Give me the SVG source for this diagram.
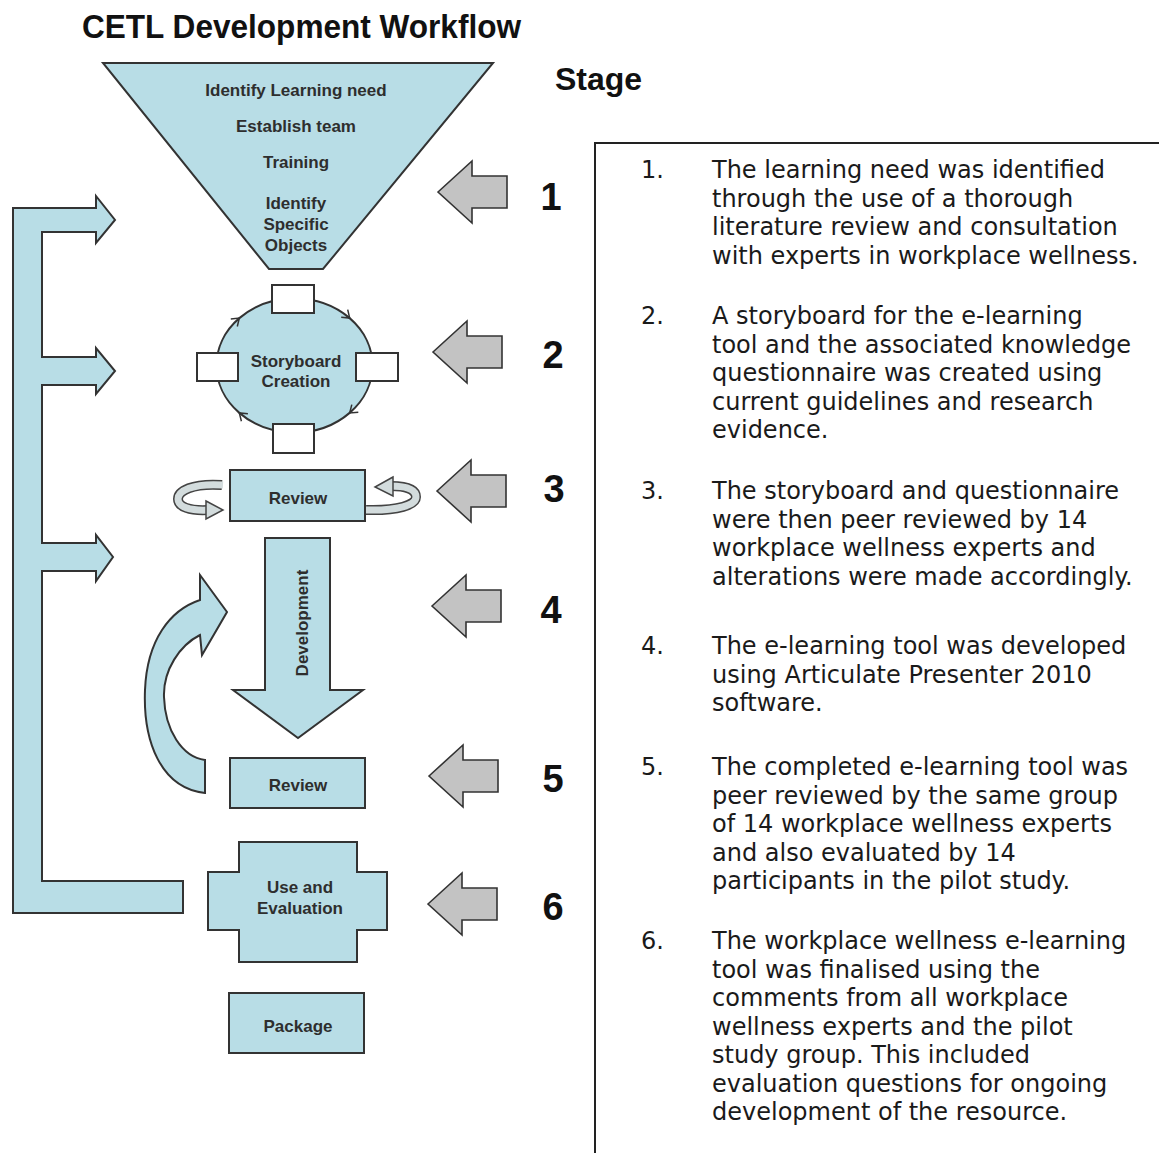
<svg xmlns="http://www.w3.org/2000/svg" width="1159" height="1153" viewBox="0 0 1159 1153">
  <style>
    .shape { fill: #b8dde6; stroke: #333; stroke-width: 2; stroke-linejoin: miter; }
    .white { fill: #ffffff; stroke: #333; stroke-width: 2; }
    .lbl { font-family: "Liberation Sans", Arial, sans-serif; font-weight: bold; font-size: 17px; fill: #2e2e2e; text-anchor: middle; }
    .head { font-family: "Liberation Sans", Arial, sans-serif; font-weight: bold; fill: #111; }
    .num { font-family: "Liberation Sans", Arial, sans-serif; font-weight: bold; font-size: 38px; fill: #111; text-anchor: middle; }
    .body { font-family: "DejaVu Sans", Verdana, sans-serif; font-size: 24px; fill: #1a1a1a; }
    .pointer { fill: #c3c3c3; stroke: #333; stroke-width: 1.6; stroke-linejoin: miter; }
    .chev { fill: none; stroke: #333; stroke-width: 1.5; }
    .ringOut { fill: none; stroke: #444; stroke-width: 10; }
    .ringIn { fill: none; stroke: #d3dcdd; stroke-width: 7; }
    .ringHead { fill: #d3dcdd; stroke: #444; stroke-width: 1.5; }
  </style>
  <defs>
    <!-- left-pointing stage arrow, tip at origin -->
    <path id="stageArrow" d="M0,0 L34,-31 L34,-16 L69,-16 L69,16 L34,16 L34,31 Z"/>
  </defs>

  <rect width="1159" height="1153" fill="#ffffff"/>

  <!-- headings -->
  <text class="head" x="82" y="38" font-size="34" textLength="439" lengthAdjust="spacingAndGlyphs">CETL Development Workflow</text>
  <text class="head" x="555" y="90" font-size="32">Stage</text>

  <!-- feedback bracket on the left -->
  <g id="connectors">
    <path class="shape" d="M13,208 L96,208 L96,196 L115,220 L96,243 L96,232 L42,232 L42,357 L96,357 L96,348 L115,371 L96,394 L96,385 L42,385 L42,543 L96,543 L96,535 L113,557 L96,581 L96,571 L42,571 L42,881 L183,881 L183,913 L13,913 Z"/>
    <!-- loop back from review to development -->
    <path class="shape" d="M205,793 C160,788 143,740 145,690 C147,640 170,610 200,600 L200,575 L227,612 L202,655 L200,635 C180,645 163,670 164,697 C165,730 182,757 205,760 Z"/>
  </g>

  <!-- stage 1: funnel -->
  <g id="funnel">
    <polygon class="shape" points="103,63 493,63 323,269 269,269"/>
    <text class="lbl" x="296" y="96">Identify Learning need</text>
    <text class="lbl" x="296" y="132">Establish team</text>
    <text class="lbl" x="296" y="168">Training</text>
    <text class="lbl" x="296" y="209">Identify</text>
    <text class="lbl" x="296" y="230">Specific</text>
    <text class="lbl" x="296" y="251">Objects</text>
  </g>

  <!-- stage 2: storyboard cycle -->
  <g id="storyboard">
    <ellipse class="shape" cx="294.5" cy="365.5" rx="78" ry="67"/>
    <path class="chev" d="M230.8,318.9 L239.3,318.1 L237.3,326.5"/>
    <path class="chev" d="M347.7,309.7 L349.7,318.1 L341.2,317.3"/>
    <path class="chev" d="M351.8,404.6 L349.7,412.9 L358.3,412.2"/>
    <path class="chev" d="M247.9,413.7 L239.3,412.9 L241.4,421.3"/>
    <rect class="white" x="272" y="285" width="42" height="28"/>
    <rect class="white" x="273" y="424" width="41" height="29"/>
    <rect class="white" x="197" y="353" width="41" height="28"/>
    <rect class="white" x="356" y="353" width="42" height="28"/>
    <text class="lbl" x="296" y="367">Storyboard</text>
    <text class="lbl" x="296" y="387">Creation</text>
  </g>

  <!-- stage 3: review with rotating arrows -->
  <g id="review1">
    <path class="ringOut" d="M222,485 C192,483 178,491 178,499 C178,507 190,511 208,510"/>
    <path class="ringIn" d="M223,485 C192,483 178,491 178,499 C178,507 190,511 209,510"/>
    <polygon class="ringHead" points="206,501 223,510 206,519"/>
    <path class="ringOut" d="M366,510 C398,511 416,505 416,497 C416,489 405,486 391,486"/>
    <path class="ringIn" d="M365,510 C398,511 416,505 416,497 C416,489 405,486 390,486"/>
    <polygon class="ringHead" points="393,477 375,487 393,496"/>
    <rect class="shape" x="230" y="470" width="135" height="51"/>
    <text class="lbl" x="298" y="504">Review</text>
  </g>

  <!-- stage 4: development -->
  <g id="development">
    <polygon class="shape" points="265,538 330,538 330,690 363,690 298,738 233,690 265,690"/>
    <text class="lbl" transform="translate(308,623) rotate(-90)">Development</text>
  </g>

  <!-- stage 5: review -->
  <g id="review2">
    <rect class="shape" x="230" y="758" width="135" height="50"/>
    <text class="lbl" x="298" y="791">Review</text>
  </g>

  <!-- stage 6: use and evaluation -->
  <g id="evaluation">
    <polygon class="shape" points="239,842 357,842 357,872 387,872 387,930 357,930 357,962 239,962 239,930 208,930 208,872 239,872"/>
    <text class="lbl" x="300" y="893">Use and</text>
    <text class="lbl" x="300" y="914">Evaluation</text>
  </g>

  <g id="package">
    <rect class="shape" x="229" y="993" width="135" height="60"/>
    <text class="lbl" x="298" y="1032">Package</text>
  </g>

  <!-- stage pointers and numbers -->
  <g id="stage-markers">
    <use href="#stageArrow" class="pointer" transform="translate(438,192)"/>
    <use href="#stageArrow" class="pointer" transform="translate(433,352)"/>
    <use href="#stageArrow" class="pointer" transform="translate(437,491)"/>
    <use href="#stageArrow" class="pointer" transform="translate(432,606)"/>
    <use href="#stageArrow" class="pointer" transform="translate(429,776)"/>
    <use href="#stageArrow" class="pointer" transform="translate(428,904)"/>
    <text class="num" x="551" y="210">1</text>
    <text class="num" x="553" y="368">2</text>
    <text class="num" x="554" y="502">3</text>
    <text class="num" x="551" y="623">4</text>
    <text class="num" x="553" y="792">5</text>
    <text class="num" x="553" y="920">6</text>
  </g>

  <!-- description panel -->
  <g id="notes">
    <path d="M595,1153 L595,143 L1159,143" fill="none" stroke="#222" stroke-width="2"/>
    <g class="body">
      <text x="641" y="178">1.</text>
      <text x="712" y="178">The learning need was identified</text>
      <text x="712" y="206.5">through the use of a thorough</text>
      <text x="712" y="235">literature review and consultation</text>
      <text x="712" y="263.5">with experts in workplace wellness.</text>

      <text x="641" y="324">2.</text>
      <text x="712" y="324">A storyboard for the e-learning</text>
      <text x="712" y="352.5">tool and the associated knowledge</text>
      <text x="712" y="381">questionnaire was created using</text>
      <text x="712" y="409.5">current guidelines and research</text>
      <text x="712" y="438">evidence.</text>

      <text x="641" y="499">3.</text>
      <text x="712" y="499">The storyboard and questionnaire</text>
      <text x="712" y="527.5">were then peer reviewed by 14</text>
      <text x="712" y="556">workplace wellness experts and</text>
      <text x="712" y="584.5">alterations were made accordingly.</text>

      <text x="641" y="654">4.</text>
      <text x="712" y="654">The e-learning tool was developed</text>
      <text x="712" y="682.5">using Articulate Presenter 2010</text>
      <text x="712" y="711">software.</text>

      <text x="641" y="775">5.</text>
      <text x="712" y="775">The completed e-learning tool was</text>
      <text x="712" y="803.5">peer reviewed by the same group</text>
      <text x="712" y="832">of 14 workplace wellness experts</text>
      <text x="712" y="860.5">and also evaluated by 14</text>
      <text x="712" y="889">participants in the pilot study.</text>

      <text x="641" y="949">6.</text>
      <text x="712" y="949">The workplace wellness e-learning</text>
      <text x="712" y="977.5">tool was finalised using the</text>
      <text x="712" y="1006">comments from all workplace</text>
      <text x="712" y="1034.5">wellness experts and the pilot</text>
      <text x="712" y="1063">study group. This included</text>
      <text x="712" y="1091.5">evaluation questions for ongoing</text>
      <text x="712" y="1120">development of the resource.</text>
    </g>
  </g>
</svg>
